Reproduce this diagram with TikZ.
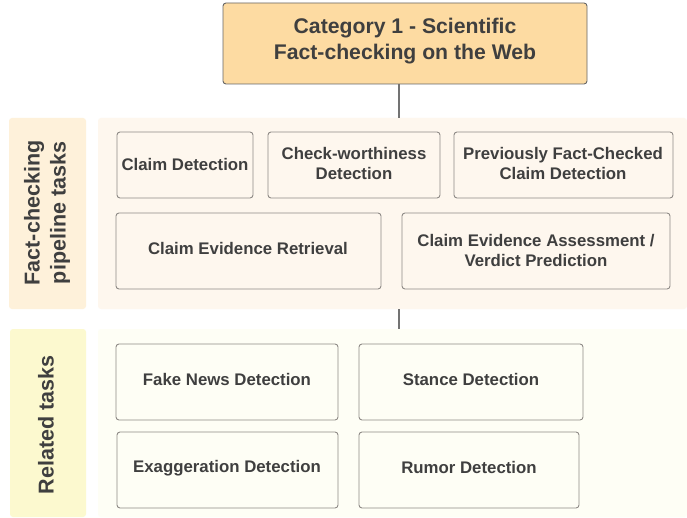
\documentclass[tikz,border=0pt]{standalone}
\usepackage{fontspec}
\setmainfont{Liberation Sans}
\definecolor{topfill}{HTML}{FDDBA2}
\definecolor{lab1}{HTML}{FEF1DA}
\definecolor{pan1}{HTML}{FEF7EE}
\definecolor{lab2}{HTML}{FCF9CF}
\definecolor{pan2}{HTML}{FEFEF5}
\definecolor{txt}{HTML}{3F3F3F}
\definecolor{bord}{HTML}{8E8A86}
\begin{document}
\begin{tikzpicture}[x=1pt,y=-1pt,
  panel/.style={fill=#1, draw=none, rounded corners=3pt},
  taskbox/.style={draw=bord, line width=0.9pt, rounded corners=3pt, fill=none},
  tasktext/.style={text=txt, font=\bfseries\fontsize{16.8}{20}\selectfont, align=center, inner sep=0pt},
  sidetext/.style={text=txt, font=\bfseries\fontsize{21.5}{26}\selectfont, align=center, rotate=90, inner sep=0pt},
  conn/.style={draw=gray!90!black, line width=1.3pt}]
\useasboundingbox (0,0) rectangle (687,518);
\fill[white] (0,0) rectangle (687,518);
% top box
\draw[fill=topfill, draw=gray!80!black, line width=0.9pt, rounded corners=3pt] (223,3) rectangle (587,84);
\node[text=txt, font=\bfseries\fontsize{21.2}{26}\selectfont, align=center, inner sep=0pt] (top) at (405,41) {Category 1 - Scientific\\Fact-checking on the Web};
\coordinate (topb) at (399,84);
% panels
\fill[panel=lab1] (9,118) rectangle (86,309);
\fill[panel=pan1] (98,118) rectangle (687,309);
\fill[panel=lab2] (10,329) rectangle (86,517);
\fill[panel=pan2] (98,329) rectangle (687,517);
\coordinate (p1t) at (399,118);
\coordinate (p1b) at (399,309);
\coordinate (p2t) at (399,329);
\draw[conn] (topb) -- (p1t);
\draw[conn] (p1b) -- (p2t);
\node[sidetext] (lab1) at (47,213) {Fact-checking\\pipeline tasks};
\node[sidetext] (lab2) at (46,425) {Related tasks};
% panel 1 boxes
\draw[taskbox] (117,132) rectangle (253,198);
\node[tasktext] (b1) at (185,164) {Claim Detection};
\draw[taskbox] (268,132) rectangle (440,198);
\node[tasktext] (b2) at (354,163) {Check-worthiness\\Detection};
\draw[taskbox] (454,132) rectangle (673,198);
\node[tasktext] (b3) at (563,163) {Previously Fact-Checked\\Claim Detection};
\draw[taskbox] (116,213) rectangle (381,289);
\node[tasktext] (b4) at (248,248) {Claim Evidence Retrieval};
\draw[taskbox] (402,213) rectangle (670,289);
\node[tasktext] (b5) at (536,250) {Claim Evidence Assessment /\\Verdict Prediction};
% panel 2 boxes
\draw[taskbox] (116,344) rectangle (338,420);
\node[tasktext] (c1) at (227,379) {Fake News Detection};
\draw[taskbox] (359,344) rectangle (583,420);
\node[tasktext] (c2) at (471,379) {Stance Detection};
\draw[taskbox] (117,432) rectangle (338,508);
\node[tasktext] (c3) at (227,468) {Exaggeration Detection};
\draw[taskbox] (359,432) rectangle (579,508);
\node[tasktext] (c4) at (469,467) {Rumor Detection};
\end{tikzpicture}
\end{document}
